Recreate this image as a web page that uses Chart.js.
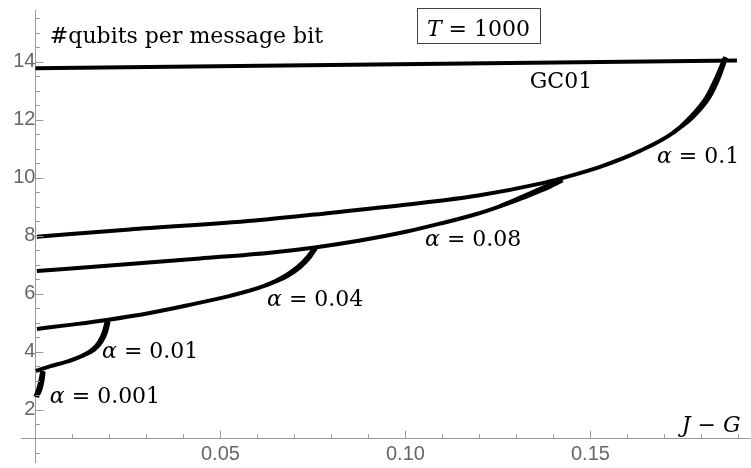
<!DOCTYPE html>
<html>
<head>
<meta charset="utf-8">
<script src="https://cdn.jsdelivr.net/npm/chart.js@4.4.1/dist/chart.umd.min.js"></script>
<style>
  html, body { margin: 0; padding: 0; background: #fff; }
  #wrap { width: 751px; height: 468px; }
</style>
</head>
<body>
<div id="wrap"><canvas id="chart"></canvas></div>
<script>
// qubits per message bit against J - G, T = 1000

// GC01 reference line
const gcX = [0, 0.1896];
const gcY = [13.78, 14.05];

// alpha = 0.1 (outward branch, then the short return branch near the cusp)
const a1X = [0.0004, 0.0255, 0.0593, 0.0796, 0.0999, 0.1201, 0.1364, 0.1423, 0.1526, 0.1634, 0.1723, 0.1768, 0.1814, 0.1841, 0.1864];
const a1Y = [7.97, 8.22, 8.53, 8.79, 9.07, 9.40, 9.80, 9.99, 10.38, 10.93, 11.55, 12.07, 12.79, 13.48, 14.17];
const a1BackX = [0.1723, 0.1775, 0.1822, 0.1848, 0.1867];
const a1BackY = [11.55, 12.07, 12.79, 13.48, 14.15];

// alpha = 0.08
const a08X = [0.0004, 0.0228, 0.0445, 0.0634, 0.0755, 0.0877, 0.1004, 0.1093, 0.1183, 0.1255, 0.1318, 0.1364, 0.1391, 0.1422];
const a08Y = [6.79, 7.00, 7.22, 7.42, 7.60, 7.84, 8.15, 8.42, 8.72, 9.02, 9.36, 9.62, 9.78, 9.97];
const a08BackX = [0.1255, 0.1318, 0.1364, 0.1391, 0.1425];
const a08BackY = [9.02, 9.31, 9.55, 9.70, 9.91];

// alpha = 0.04
const a04X = [0.0004, 0.0093, 0.0193, 0.0309, 0.0409, 0.0526, 0.0620, 0.0674, 0.0709, 0.0736, 0.0755];
const a04Y = [4.79, 4.93, 5.10, 5.34, 5.60, 5.93, 6.28, 6.62, 6.93, 7.28, 7.59];
const a04BackX = [0.0620, 0.0679, 0.0714, 0.0741, 0.0758];
const a04BackY = [6.28, 6.60, 6.90, 7.25, 7.57];

// alpha = 0.01
const a01X = [0.0001, 0.0039, 0.0085, 0.0126, 0.0153, 0.0172, 0.0185, 0.0193];
const a01Y = [3.34, 3.50, 3.66, 3.86, 4.07, 4.34, 4.69, 5.07];
const a01BackX = [0.0126, 0.0159, 0.0178, 0.0191, 0.0198];
const a01BackY = [3.86, 4.07, 4.34, 4.69, 5.05];

// alpha = 0.001
const a001X = [0.0000, 0.0007, 0.0012, 0.0016, 0.0018];
const a001Y = [2.45, 2.69, 2.93, 3.17, 3.34];
const a001BackX = [0.0004, 0.0013, 0.0018, 0.0021, 0.0022];
const a001BackY = [2.44, 2.69, 2.93, 3.17, 3.33];

const xTickLabels = [0.05, 0.10, 0.15];
const yTickLabels = [2, 4, 6, 8, 10, 12, 14];

const axisGrey = '#999999';
const labelGrey = '#666666';
const mathFont = '"DejaVu Serif", serif';

const toPoints = (xs, ys) => xs.map((x, i) => ({ x: x, y: ys[i] }));

const branches = [
    [gcX, gcY],
    [a1X, a1Y], [a1BackX, a1BackY],
    [a08X, a08Y], [a08BackX, a08BackY],
    [a04X, a04Y], [a04BackX, a04BackY],
    [a01X, a01Y], [a01BackX, a01BackY],
    [a001X, a001Y], [a001BackX, a001BackY]
];

const datasets = branches.map(([xs, ys]) => ({
    data: toPoints(xs, ys),
    borderColor: '#000',
    borderWidth: 4,
    pointRadius: 0,
    cubicInterpolationMode: 'monotone'
}));

// text placed in data units: [parts, x, y]
const notes = [
    [[['#qubits per message bit', false]], 0.0039, 14.66],
    [[['GC01', false]], 0.1336, 13.10],
    [[['α', true], [' = 0.1', false]], 0.1680, 10.52],
    [[['α', true], [' = 0.08', false]], 0.1053, 7.66],
    [[['α', true], [' = 0.04', false]], 0.0626, 5.59],
    [[['α', true], [' = 0.01', false]], 0.0180, 3.79],
    [[['α', true], [' = 0.001', false]], 0.0039, 2.24],
    [[['J', true], [' − ', false], ['G', true]], 0.1747, 1.24]
];
const boxed = [[['T', true], [' = 1000', false]], 0.1058, 14.90];

function drawParts(ctx, parts, px, py) {
    let cx = px;
    parts.forEach(([t, it]) => {
        ctx.font = (it ? 'italic ' : '') + '22px ' + mathFont;
        ctx.fillText(t, cx, py);
        cx += ctx.measureText(t).width;
    });
    return cx - px;
}

const decorations = {
    id: 'decorations',
    afterDraw(chart) {
        const { ctx, scales: { x, y } } = chart;
        const x0 = x.getPixelForValue(0);
        const y0 = y.getPixelForValue(1);
        ctx.save();
        ctx.strokeStyle = axisGrey;
        ctx.lineWidth = 1;
        ctx.beginPath();
        for (let k = 1; k <= 19; k++) {
            const px = Math.round(x.getPixelForValue(k / 100)) + 0.5;
            const len = k % 5 === 0 ? 8 : 4.5;
            ctx.moveTo(px, y0);
            ctx.lineTo(px, y0 - len);
        }
        for (let k = 1; k <= 31; k++) {
            if (k === 2) continue;
            const py = Math.round(y.getPixelForValue(k / 2)) + 0.5;
            const len = k % 4 === 0 ? 8 : 4.5;
            ctx.moveTo(x0, py);
            ctx.lineTo(x0 + len, py);
        }
        ctx.stroke();

        ctx.fillStyle = '#000';
        ctx.textBaseline = 'alphabetic';
        ctx.textAlign = 'left';
        notes.forEach(([parts, vx, vy]) => {
            drawParts(ctx, parts, x.getPixelForValue(vx), y.getPixelForValue(vy));
        });

        const bx = x.getPixelForValue(boxed[1]);
        const by = y.getPixelForValue(boxed[2]);
        const w = drawParts(ctx, boxed[0], bx, by);
        ctx.strokeStyle = '#444';
        ctx.lineWidth = 1;
        ctx.strokeRect(Math.round(bx - 10) + 0.5, Math.round(by - 28) + 0.5, Math.round(w + 20), 35);
        ctx.restore();
    }
};

const noPadding = s => {
    s.paddingTop = 0;
    s.paddingBottom = 0;
    s.paddingLeft = 0;
    s.paddingRight = 0;
};

new Chart(document.getElementById('chart').getContext('2d'), {
    type: 'line',
    data: { datasets: datasets },
    options: {
        responsive: true,
        maintainAspectRatio: false,
        animation: false,
        layout: { padding: { left: 21, right: 0, top: 10, bottom: 6 } },
        plugins: {
            legend: { display: false },
            tooltip: { enabled: false }
        },
        scales: {
            x: {
                type: 'linear',
                min: -0.0039,
                max: 0.1934,
                position: { y: 1 },
                grid: { drawOnChartArea: false, drawTicks: false },
                border: { color: axisGrey, width: 1 },
                afterBuildTicks: s => { s.ticks = xTickLabels.map(v => ({ value: v })); },
                afterFit: noPadding,
                ticks: {
                    callback: v => v.toFixed(2),
                    font: { family: 'Liberation Sans', size: 20 },
                    color: labelGrey,
                    padding: 4,
                    maxRotation: 0,
                    autoSkip: false
                }
            },
            y: {
                type: 'linear',
                min: 0.2,
                max: 15.79,
                position: { x: 0 },
                grid: { drawOnChartArea: false, drawTicks: false },
                border: { color: axisGrey, width: 1 },
                afterBuildTicks: s => { s.ticks = yTickLabels.map(v => ({ value: v })); },
                afterFit: noPadding,
                ticks: {
                    callback: v => String(v),
                    font: { family: 'Liberation Sans', size: 20 },
                    color: labelGrey,
                    padding: 6,
                    autoSkip: false
                }
            }
        }
    },
    plugins: [decorations]
});
</script>
</body>
</html>
